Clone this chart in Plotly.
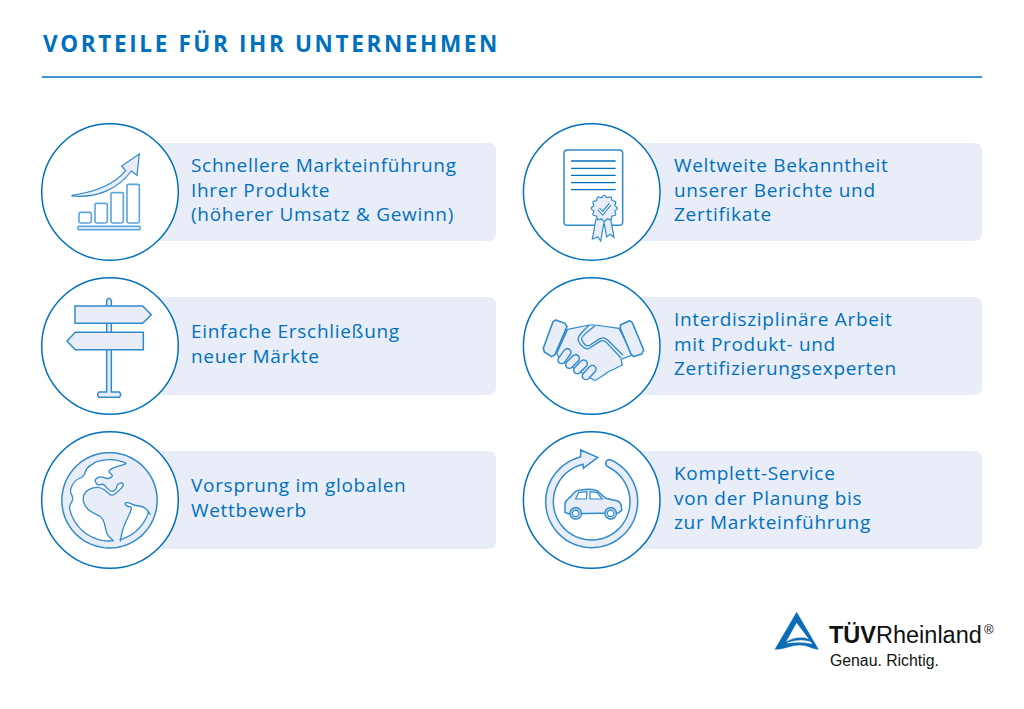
import re

import numpy as np
import plotly.graph_objects as go

WIDTH = 1024
HEIGHT = 709

BLUE = "#0071BC"
ICON_BLUE = "#2F8ACB"
LIGHT = "#E8EDF8"
WHITE = "#FFFFFF"
BLACK = "#111111"
BODY_FONT = "Open Sans"
LOGO_FONT = "Liberation Sans"

TITLE = "VORTEILE FÜR IHR UNTERNEHMEN"
LOGO_NAME = "<b>TÜV</b>Rheinland"
LOGO_CLAIM = "Genau. Richtig."

ROW_CENTERS = [192, 346, 500]
COLUMN_CENTERS = [110, 591.7]
COLUMN_RIGHT = [496, 982]
COLUMN_TEXT_X = [189, 672]
LEFT_TEXTS = [
    ["Schnellere Markteinführung", "Ihrer Produkte", "(höherer Umsatz & Gewinn)"],
    ["Einfache Erschließung", "neuer Märkte"],
    ["Vorsprung im globalen", "Wettbewerb"],
]
RIGHT_TEXTS = [
    ["Weltweite Bekanntheit", "unserer Berichte und", "Zertifikate"],
    ["Interdisziplinäre Arbeit", "mit Produkt- und", "Zertifizierungsexperten"],
    ["Komplett-Service", "von der Planung bis", "zur Markteinführung"],
]

shapes = []
annotations = []


def tr(d, ox, oy, scale=3.0):
    # icon paths are written in the pixels of a 3x crop, map them back to the page
    parts = re.split(r"(-?\d+\.?\d*)", d)
    out, is_x = [], True
    for part in parts:
        if re.fullmatch(r"-?\d+\.?\d*", part):
            base = ox if is_x else oy
            out.append(f"{base + float(part) / scale:.2f}")
            is_x = not is_x
        else:
            out.append(part)
    return "".join(out)


def add_path(d, ox, oy, fill=None, color=ICON_BLUE, width=1.2, scale=3.0):
    shapes.append(dict(
        type="path",
        path=tr(d, ox, oy, scale),
        fillcolor=fill if fill else "rgba(0,0,0,0)",
        line=dict(color=color, width=width),
    ))


def arc(cx, cy, r, a0, a1, n=60, cmd="L"):
    angles = np.radians(np.linspace(a0, a1, n))
    pts = [f"{cx + r * np.cos(a):.1f},{cy + r * np.sin(a):.1f}" for a in angles]
    return f"{cmd} " + " L ".join(pts)


def smooth(pts):
    # quadratic through the midpoints, keeps the coast lines from looking jagged
    out = [f"L {pts[0][0]},{pts[0][1]}"]
    for (x0, y0), (x1, y1) in zip(pts[:-1], pts[1:]):
        out.append(f"Q {x0},{y0} {(x0 + x1) / 2},{(y0 + y1) / 2}")
    out.append(f"L {pts[-1][0]},{pts[-1][1]}")
    return " ".join(out)


def rrect(x0, y0, x1, y1, r):
    return (f"M {x0 + r},{y0} L {x1 - r},{y0} Q {x1},{y0} {x1},{y0 + r} L {x1},{y1 - r} "
            f"Q {x1},{y1} {x1 - r},{y1} L {x0 + r},{y1} Q {x0},{y1} {x0},{y1 - r} "
            f"L {x0},{y0 + r} Q {x0},{y0} {x0 + r},{y0} Z")


def capsule(x0, y0, x1, y1, r):
    a = np.degrees(np.arctan2(y1 - y0, x1 - x0))
    start = arc(x1, y1, r, a - 90, a + 90, 14, "M")
    end = arc(x0, y0, r, a + 90, a + 270, 14, "L")
    return f"{start} {end} Z"


def circle(cx, cy, r):
    return arc(cx, cy, r, 0, 360, 90, "M") + " Z"


def add_text(text, x, y, size, color=BLUE, font=BODY_FONT, anchor="left"):
    annotations.append(dict(
        text=text, x=x, y=y, xref="x", yref="y", showarrow=False,
        xanchor=anchor, yanchor="middle", align=anchor,
        font=dict(family=font, size=size, color=color),
    ))


def icon_chart(ox, oy):
    for x0, top in zip([147, 195, 243, 291], [292, 265, 233, 208]):
        add_path(rrect(x0, top, x0 + 37, 324, 5), ox, oy, width=1.6, color="#5AA5DA")
    add_path(rrect(144, 334, 330, 344, 2), ox, oy, width=1.6, color="#5AA5DA")
    add_path("M 126,241 C 190,232 250,212 287,167 L 275,153 L 328,117 L 321,181 L 304,168 "
             "C 265,222 200,250 126,243 Z", ox, oy, fill=LIGHT)


def icon_sign(ox, oy):
    add_path("M 230,92 Q 237,78 244,92 L 244,366 L 268,366 Q 276,374 268,382 L 207,382 "
             "Q 199,374 207,366 L 230,366 Z", ox, oy, fill=LIGHT, width=1.5)
    add_path("M 135,108 L 338,108 L 364,134 L 338,160 L 135,160 Z", ox, oy, fill=LIGHT, width=1.5)
    add_path("M 111,213 L 136,187 L 340,187 L 340,239 L 136,239 Z", ox, oy, fill=LIGHT, width=1.5)


def icon_globe(ox, oy):
    # crop for the globe is taken closer in, centre of the disc is 154.5,157
    cx, cy = 154.5, 157
    add_path(circle(cx, cy, 143), ox, oy, fill=LIGHT, width=1.5)
    coast = [(198, 43), (207, 46), (190, 52), (168, 58), (148, 70), (168, 84), (148, 94), (128, 84),
             (108, 95), (120, 114), (135, 106), (150, 124), (162, 132), (176, 124), (176, 110),
             (192, 103), (198, 112), (185, 126), (162, 145), (148, 133), (130, 118), (105, 118),
             (82, 130), (74, 150), (80, 176), (105, 196), (130, 205), (140, 225), (146, 260), (165, 277)]
    west = [(36, 172), (47, 150), (34, 130), (50, 97), (78, 86), (85, 60), (108, 46)]
    atlantic = ("M 198,43 " + smooth(coast) + " " + arc(cx, cy, 122, 85, 170, 30)
                + " " + smooth(west) + " " + arc(cx, cy, 122, -112, -69, 16) + " Z")
    east = [(187, 277), (196, 235), (226, 176), (205, 176), (199, 163), (215, 165), (232, 173),
            (255, 175), (270, 188), (275, 197)]
    indian = "M 187,277 " + smooth(east) + " " + arc(cx, cy, 122, 18, 75, 24) + " Z"
    add_path(atlantic, ox, oy, fill=WHITE, width=1.3)
    add_path(indian, ox, oy, fill=WHITE, width=1.3)


def icon_certificate(ox, oy):
    add_path(rrect(147, 105, 323, 331, 10), ox, oy, fill=WHITE, width=1.5, color=ICON_BLUE)
    for y in [138, 160, 181, 203, 224]:
        add_path(f"M 168,{y} L 302,{y}", ox, oy, width=1.4, color=BLUE)
    add_path("M 243,312 L 232,372 L 248,366 L 257,378 L 267,322 L 275,366 L 285,358 L 297,367 "
             "L 287,312 Z", ox, oy, fill=LIGHT)
    theta = np.linspace(0, 2 * np.pi, 145)
    radius = 36 + 3 * np.cos(12 * theta)
    seal = " L ".join(f"{268 + r * np.cos(t):.1f},{280 + r * np.sin(t):.1f}" for r, t in zip(radius, theta))
    add_path("M " + seal + " Z", ox, oy, fill=LIGHT)
    add_path("M 251,282 L 263,295 L 285,268", ox, oy, width=3.2, color=BLUE)
    add_path("M 251,282 L 263,295 L 285,268", ox, oy, width=1.4, color=WHITE)


def icon_handshake(ox, oy):
    add_path("M 158,178 L 222,165 L 240,165 L 312,175 L 352,255 L 318,268 L 322,285 L 298,297 "
             "L 280,305 L 262,318 L 240,332 L 228,325 L 135,270 L 125,250 Z", ox, oy, fill=LIGHT)
    for x0, y0, x1, y1 in [(140, 270, 157, 247), (163, 284, 182, 265), (187, 300, 206, 281), (213, 318, 232, 297)]:
        add_path(capsule(x0, y0, x1, y1, 11), ox, oy, fill=LIGHT, width=1.4)
    add_path("M 222,166 C 205,182 185,200 190,212 C 197,228 212,242 224,234 L 255,214 "
             "C 262,210 268,212 275,218 L 318,264", ox, oy, width=1.3)
    add_path("M 240,167 C 225,180 196,198 200,208 C 205,222 215,232 224,226 L 255,206 "
             "C 262,202 270,204 278,210 L 324,256", ox, oy, width=1.3)
    add_path("M 157,178 L 125,248", ox, oy)
    add_path("M 150,176 L 120,242", ox, oy)
    add_path("M 122,150 L 150,160 L 156,170 L 120,254 L 110,260 L 88,246 L 85,235 L 114,155 Z",
             ox, oy, fill=LIGHT, width=1.6)
    add_path("M 316,165 L 344,152 L 352,158 L 386,240 L 380,252 L 356,260 L 348,252 L 316,176 Z",
             ox, oy, fill=LIGHT, width=1.6)


def icon_car(ox, oy):
    cx, cy = 230, 230
    ring = (arc(cx, cy, 138, -64, 256, 90, "M") + " L 197,75 L 248,97 L 205,130 "
            + arc(cx, cy, 115, 257, -63, 90) + " " + arc(283, 115, 11, 115, 295, 10) + " Z")
    add_path(ring, ox, oy, fill=LIGHT, width=1.5)
    add_path("M 150,262 L 150,236 C 150,226 160,222 166,216 L 182,199 C 192,192 230,191 246,197 "
             "L 272,220 L 308,228 C 318,232 320,245 320,256 L 310,264 L 160,266 Z",
             ox, oy, fill=LIGHT, width=1.5)
    add_path("M 182,222 L 191,202 L 216,200 L 214,222 Z", ox, oy, fill=WHITE)
    add_path("M 225,200 L 245,202 L 262,222 L 225,222 Z", ox, oy, fill=WHITE)
    for wx in [182, 287]:
        add_path(circle(wx, 265, 17), ox, oy, fill=LIGHT, width=1.5)
        add_path(circle(wx, 265, 10), ox, oy, fill=WHITE, width=1.3)


def icon_logo(ox, oy):
    add_path("M 110,37 L 175,148 C 155,146 140,134 118,135 C 90,136 75,148 45,148 Z", ox, oy,
             fill="#0B6DB6", color="#0B6DB6", width=0.5)
    add_path("M 110,70 L 80,124 C 100,112 125,108 145,116 Z", ox, oy, fill=WHITE, color=WHITE, width=0.5)
    add_path("M 82,129 C 105,120 130,119 152,126 L 155,131 C 130,125 105,126 82,129 Z", ox, oy,
             fill=WHITE, color=WHITE, width=0.5)


shapes.append(dict(type="line", x0=42, x1=982, y0=77, y1=77, line=dict(color=BLUE, width=1.5)))
add_text(f"<b>{TITLE}</b>", 40.5, 43, 22.5)

for cx, right, text_x, texts in zip(COLUMN_CENTERS, COLUMN_RIGHT, COLUMN_TEXT_X, [LEFT_TEXTS, RIGHT_TEXTS]):
    for cy, lines in zip(ROW_CENTERS, texts):
        r = 8
        top, bottom = cy - 49, cy + 49
        shapes.append(dict(
            type="path",
            path=(f"M {cx},{top} L {right - r},{top} Q {right},{top} {right},{top + r} "
                  f"L {right},{bottom - r} Q {right},{bottom} {right - r},{bottom} L {cx},{bottom} Z"),
            fillcolor=LIGHT, line=dict(width=0),
        ))
        shapes.append(dict(
            type="circle", x0=cx - 68.3, x1=cx + 68.3, y0=cy - 68.3, y1=cy + 68.3,
            fillcolor=WHITE, line=dict(color=BLUE, width=1.5),
        ))
        # one block per card, so the lines share a text box
        add_text("<br>".join(lines), text_x, cy - 2.5, 19)

icon_chart(30, 115)
icon_sign(30, 270)
icon_globe(58, 448)
icon_certificate(515, 115)
icon_handshake(515, 270)
icon_car(515, 425)
icon_logo(760, 600)

add_text(LOGO_NAME, 827, 635, 23.5, color=BLACK, font=LOGO_FONT)
add_text("®", 982, 629, 13, color=BLACK, font=LOGO_FONT)
add_text(LOGO_CLAIM, 827.5, 660, 15.8, color=BLACK, font=LOGO_FONT)

fig = go.Figure()
fig.update_layout(
    width=WIDTH, height=HEIGHT,
    margin=dict(l=0, r=0, t=0, b=0),
    paper_bgcolor=WHITE, plot_bgcolor=WHITE,
    showlegend=False,
    xaxis=dict(range=[0, WIDTH], visible=False, fixedrange=True),
    yaxis=dict(range=[HEIGHT, 0], visible=False, fixedrange=True),
    shapes=shapes, annotations=annotations,
)

# body margin off, tracking on the title and copy
spacing_js = """
document.body.style.margin = '0';
document.querySelectorAll('.annotation-text').forEach(function (t) {
  var s = t.textContent;
  if (s.indexOf('VORTEILE') === 0) { t.style.letterSpacing = '2.64px'; }
  else if (s.indexOf('TÜV') !== 0 && s.indexOf('Genau') !== 0 && s !== '®') { t.style.letterSpacing = '0.7px'; }
});
"""
fig.write_html("out.html", post_script=spacing_js, config={"displayModeBar": False})
